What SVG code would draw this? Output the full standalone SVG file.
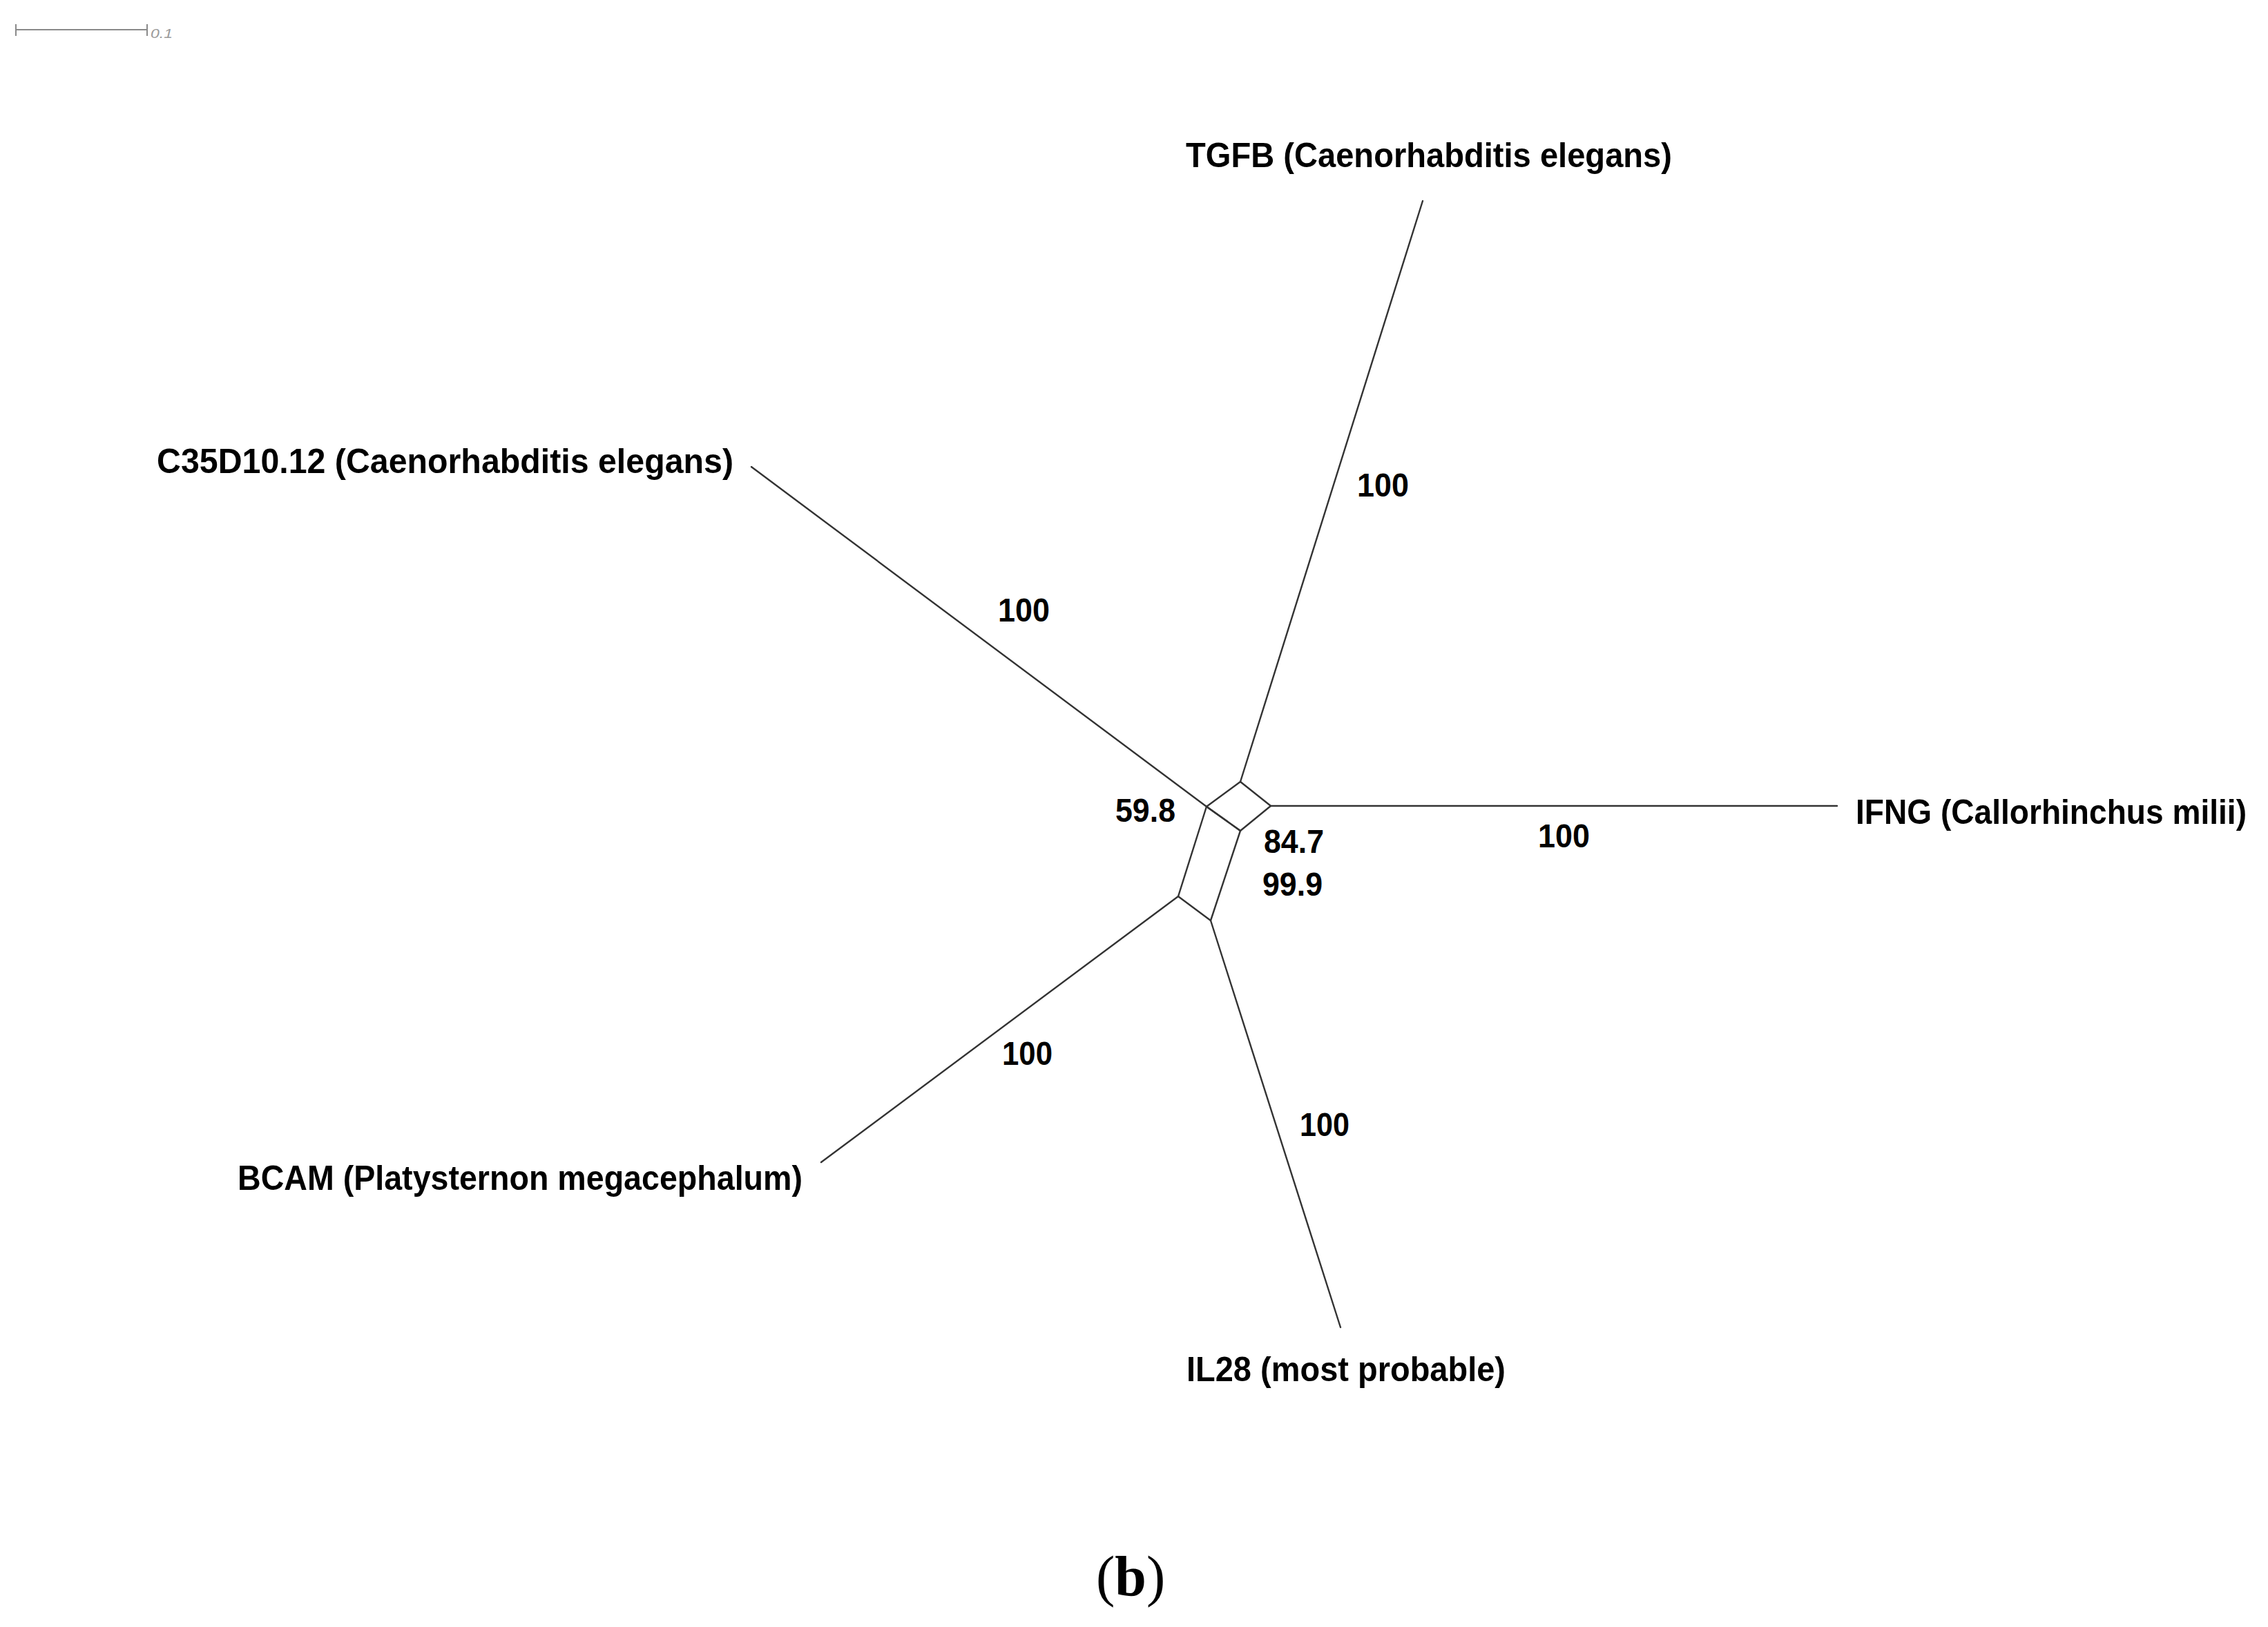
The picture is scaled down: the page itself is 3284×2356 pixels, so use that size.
<svg xmlns="http://www.w3.org/2000/svg" width="3284" height="2356" viewBox="0 0 3284 2356">
<style>
.e{stroke:#333;stroke-width:2.4;fill:none;stroke-linecap:round;stroke-linejoin:round}
.lbl{font-family:"Liberation Sans",Arial,sans-serif;font-weight:bold;font-size:50px;fill:#000}
.num{font-family:"Liberation Sans",Arial,sans-serif;font-weight:bold;font-size:49px;fill:#000}
.sb{stroke:#8a8a8a;stroke-width:2;fill:none}
.sbt{font-family:"Liberation Sans",Arial,sans-serif;font-style:italic;font-size:18px;fill:#9a9a9a}
.cap{font-family:"Liberation Serif","Times New Roman",serif;font-size:82px;fill:#000}
</style>
<rect width="3284" height="2356" fill="#fff"/>
<g id="scalebar">
<line class="sb" x1="23" y1="43" x2="213" y2="43"/>
<line class="sb" x1="23" y1="35" x2="23" y2="52"/>
<line class="sb" x1="213" y1="35" x2="213" y2="52"/>
<text class="sbt" x="218" y="55" textLength="32" lengthAdjust="spacingAndGlyphs">0.1</text>
</g>
<g id="connectors">
<polygon class="e" points="1747,1168 1796,1132 1840,1167 1796,1203"/>
<polygon class="e" points="1747,1168 1796,1203 1753,1333 1706,1298"/>
<line class="e" x1="1796" y1="1132" x2="2060" y2="291"/>
<line class="e" x1="1747" y1="1168" x2="1088" y2="676"/>
<line class="e" x1="1840" y1="1167" x2="2660" y2="1167"/>
<line class="e" x1="1706" y1="1298" x2="1189" y2="1683"/>
<line class="e" x1="1753" y1="1333" x2="1941" y2="1922"/>
</g>
<g id="node-tgfb"><text class="lbl" x="1717" y="242" textLength="704" lengthAdjust="spacingAndGlyphs">TGFB (Caenorhabditis elegans)</text></g>
<g id="node-c35"><text class="lbl" x="227" y="685" textLength="835" lengthAdjust="spacingAndGlyphs">C35D10.12 (Caenorhabditis elegans)</text></g>
<g id="node-ifng"><text class="lbl" x="2687" y="1193" textLength="566" lengthAdjust="spacingAndGlyphs">IFNG (Callorhinchus milii)</text></g>
<g id="node-bcam"><text class="lbl" x="344" y="1723" textLength="818" lengthAdjust="spacingAndGlyphs">BCAM (Platysternon megacephalum)</text></g>
<g id="node-il28"><text class="lbl" x="1718" y="2000" textLength="462" lengthAdjust="spacingAndGlyphs">IL28 (most probable)</text></g>
<g id="edge-labels">
<text class="num" x="1965" y="719" textLength="75" lengthAdjust="spacingAndGlyphs">100</text>
<text class="num" x="1445" y="900" textLength="75" lengthAdjust="spacingAndGlyphs">100</text>
<text class="num" x="2227" y="1227" textLength="75" lengthAdjust="spacingAndGlyphs">100</text>
<text class="num" x="1451" y="1542" textLength="73" lengthAdjust="spacingAndGlyphs">100</text>
<text class="num" x="1882" y="1645" textLength="72" lengthAdjust="spacingAndGlyphs">100</text>
<text class="num" x="1615" y="1190" textLength="87" lengthAdjust="spacingAndGlyphs">59.8</text>
<text class="num" x="1830" y="1235" textLength="87" lengthAdjust="spacingAndGlyphs">84.7</text>
<text class="num" x="1828" y="1297" textLength="87" lengthAdjust="spacingAndGlyphs">99.9</text>
</g>
<g id="caption"><text class="cap" x="1587" y="2310">(<tspan font-weight="bold">b</tspan>)</text></g>
</svg>
